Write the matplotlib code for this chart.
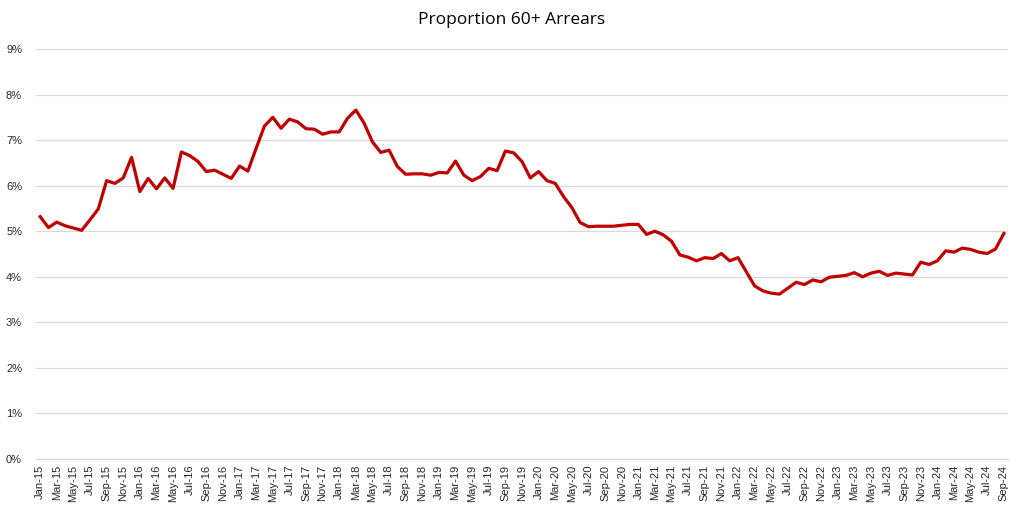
import matplotlib
matplotlib.use("Agg")
import matplotlib.pyplot as plt
from matplotlib.ticker import FuncFormatter, MultipleLocator
import pandas as pd

title = "Proportion 60+ Arrears"
months = list(pd.date_range("2015-01-01", periods=117, freq="MS").strftime("%b-%y"))

arrears_pct = [
    5.32, 5.08, 5.20, 5.12, 5.07, 5.02, 5.25, 5.49, 6.11, 6.05, 6.17, 6.62,   # 2015
    5.87, 6.16, 5.93, 6.17, 5.94, 6.74, 6.66, 6.53, 6.31, 6.34, 6.25, 6.16,   # 2016
    6.43, 6.32, 6.82, 7.31, 7.50, 7.26, 7.46, 7.40, 7.25, 7.24, 7.13, 7.18,   # 2017
    7.18, 7.48, 7.66, 7.37, 6.96, 6.73, 6.78, 6.42, 6.25, 6.26, 6.26, 6.23,   # 2018
    6.29, 6.28, 6.54, 6.23, 6.11, 6.20, 6.38, 6.33, 6.76, 6.72, 6.53, 6.17,   # 2019
    6.31, 6.11, 6.05, 5.76, 5.52, 5.19, 5.10, 5.11, 5.11, 5.11, 5.13, 5.15,   # 2020
    5.15, 4.93, 5.00, 4.92, 4.78, 4.48, 4.43, 4.35, 4.42, 4.40, 4.51, 4.35,   # 2021
    4.42, 4.11, 3.80, 3.69, 3.64, 3.62, 3.75, 3.88, 3.83, 3.93, 3.89, 3.99,   # 2022
    4.01, 4.03, 4.09, 4.00, 4.08, 4.12, 4.03, 4.08, 4.06, 4.04, 4.32, 4.27,   # 2023
    4.35, 4.57, 4.54, 4.63, 4.60, 4.54, 4.51, 4.61, 4.95,                     # 2024
]

fig = plt.figure(figsize=(10.24, 5.13), dpi=100)
ax = fig.add_axes([36 / 1024, 1 - 459 / 513, 972 / 1024, 410 / 513])

x = list(range(len(months)))
ax.plot(x, arrears_pct, color="#C00000", linewidth=2.3, solid_joinstyle="round", zorder=3)

ax.set_ylim(0, 9)
ax.set_xlim(-0.5, len(months) - 0.5)
ax.yaxis.set_major_locator(MultipleLocator(1))
ax.yaxis.set_major_formatter(FuncFormatter(lambda v, p: f"{int(round(v))}%"))
ax.grid(axis="y", color="#d9d9d9", linewidth=0.9, zorder=0)
ax.set_axisbelow(True)

ax.set_xticks(x[::2])
ax.set_xticklabels(months[::2], rotation=90, fontsize=8, family="Liberation Sans", color="#262626")
for lbl in ax.get_yticklabels():
    lbl.set_fontsize(8)
    lbl.set_family("Liberation Sans")
    lbl.set_color("#262626")
ax.tick_params(axis="both", length=0)
ax.tick_params(axis="y", pad=10)
ax.tick_params(axis="x", pad=4)

for s in ["top", "right", "left"]:
    ax.spines[s].set_visible(False)
ax.spines["bottom"].set_color("#d9d9d9")
ax.spines["bottom"].set_linewidth(0.9)

fig.text(0.5, 1 - 20 / 513, title, ha="center", va="center", fontsize=12.5,
         family="Open Sans", color="#000000")

fig.savefig("out.png", dpi=100, facecolor="white")
